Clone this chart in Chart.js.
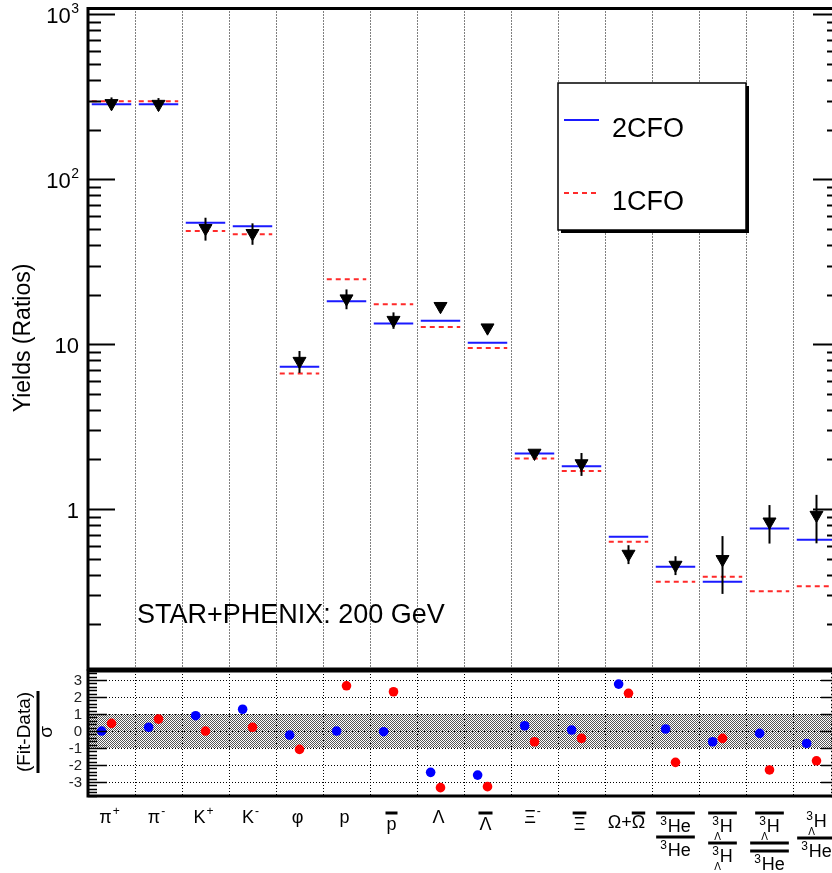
<!DOCTYPE html>
<html>
<head>
<meta charset="utf-8">
<script src="https://cdn.jsdelivr.net/npm/chart.js@4.4.0/dist/chart.umd.min.js"></script>
<style>
html, body { margin: 0; padding: 0; background: #fff; overflow: hidden; }
#wrap { position: relative; width: 832px; height: 873px; overflow: hidden; }
canvas { position: absolute; left: 0; top: 0; }
</style>
</head>
<body>
<div id="wrap">
  <canvas id="upper" width="860" height="873"></canvas>
  <canvas id="lower" width="860" height="873"></canvas>
</div>
<script>
// particles / ratios, one bin each
const particles = ['pi+', 'pi-', 'K+', 'K-', 'phi', 'p', 'pbar', 'Lambda', 'Lambdabar', 'Xi-', 'Xibar',
    'Omega+Omegabar', 'He3bar/He3', 'H3Lbar/H3L', 'H3Lbar/He3bar', 'H3L/He3'];

// measured yields (ratios) and errors
const yieldData = [289, 286, 50.5, 47.1, 7.9, 18.9, 14.0, 17.0, 12.6, 2.19, 1.89, 0.534, 0.458, 0.496, 0.838, 0.92];
const yieldErr  = [25, 25, 8, 7, 1.2, 2.6, 1.6, 0.4, 0.3, 0.08, 0.3, 0.07, 0.06, 0.19, 0.22, 0.3];

// model fits
const fit2CFO = [285, 285, 54.6, 51.9, 7.29, 18.2, 13.35, 13.9, 10.2, 2.175, 1.82, 0.68, 0.447, 0.363, 0.764, 0.652];
const fit1CFO = [298, 298, 48.6, 46.4, 6.64, 24.8, 17.5, 12.7, 9.5, 2.03, 1.70, 0.634, 0.363, 0.389, 0.318, 0.341];

// (fit - data) / sigma
const dev2CFO = [0.0, 0.22, 0.9, 1.28, -0.24, 0.0, -0.04, -2.43, -2.59, 0.31, 0.06, 2.76, 0.12, -0.63, -0.14, -0.73];
const dev1CFO = [0.45, 0.7, 0.0, 0.22, -1.08, 2.66, 2.31, -3.33, -3.27, -0.63, -0.43, 2.22, -1.84, -0.43, -2.29, -1.75];

// tick labels
const yTicks = [1, 10, 100, 1000];
const yTickText = [['1', ''], ['10', ''], ['10', '2'], ['10', '3']];
const devTicks = [-3, -2, -1, 0, 1, 2, 3];
const xLabels = [
    {t: 'π', sup: '+'},
    {t: 'π', sup: '-'},
    {t: 'K', sup: '+'},
    {t: 'K', sup: '-'},
    {t: 'φ'},
    {t: 'p'},
    {t: 'p', bar: true},
    {t: 'Λ'},
    {t: 'Λ', bar: true},
    {t: 'Ξ', sup: '-'},
    {t: 'Ξ', bar: true},
    {parts: [{t: 'Ω'}, {t: '+'}, {t: 'Ω', bar: true}]},
    {num: {pre: '3', t: 'He', bar: true}, den: {pre: '3', t: 'He'}},
    {num: {pre: '3', sub: 'Λ', t: 'H', bar: true}, den: {pre: '3', sub: 'Λ', t: 'H'}},
    {num: {pre: '3', sub: 'Λ', t: 'H', bar: true}, den: {pre: '3', t: 'He', bar: true}},
    {num: {pre: '3', sub: 'Λ', t: 'H'}, den: {pre: '3', t: 'He'}}
];

const FONT = '"Liberation Sans", Arial, Helvetica, sans-serif';
const MAIN = '18px ' + FONT;
const SMALL = '12px ' + FONT;
const TINY = '10px ' + FONT;

function modelSegments(vals) {
    const pts = [];
    vals.forEach((v, i) => {
        pts.push({x: i + 0.08, y: v}, {x: i + 0.92, y: v}, {x: i + 0.96, y: null});
    });
    return pts;
}

function dottedVertical(ctx, chart) {
    const a = chart.chartArea, x = chart.scales.x;
    ctx.strokeStyle = '#000';
    ctx.lineWidth = 1;
    ctx.setLineDash([1, 2]);
    for (let i = 1; i < particles.length; i++) {
        const px = Math.round(x.getPixelForValue(i)) + 0.5;
        ctx.beginPath();
        ctx.moveTo(px, a.top);
        ctx.lineTo(px, a.bottom);
        ctx.stroke();
    }
    ctx.setLineDash([]);
}

function line(ctx, x1, y1, x2, y2) {
    ctx.beginPath();
    ctx.moveTo(x1, y1);
    ctx.lineTo(x2, y2);
    ctx.stroke();
}

const upperDecor = {
    id: 'upperDecor',
    beforeDatasetsDraw(chart) {
        const ctx = chart.ctx;
        ctx.save();
        dottedVertical(ctx, chart);
        ctx.restore();
    },
    afterDatasetsDraw(chart) {
        const {ctx, chartArea: a, scales: {x, y}} = chart;
        ctx.save();

        // error bars
        ctx.strokeStyle = '#000';
        ctx.lineWidth = 2;
        yieldData.forEach((v, i) => {
            const px = x.getPixelForValue(i + 0.5);
            line(ctx, px, y.getPixelForValue(v + yieldErr[i]), px, y.getPixelForValue(v - yieldErr[i]));
        });

        // legend
        const lx = 558, ly = 83, lw = 188, lh = 147;
        ctx.fillStyle = '#000';
        ctx.fillRect(lx + 3, ly + 3, lw, lh);
        ctx.fillStyle = '#fff';
        ctx.fillRect(lx, ly, lw, lh);
        ctx.lineWidth = 1.5;
        ctx.strokeRect(lx, ly, lw, lh);
        const items = [chart.data.datasets[1], chart.data.datasets[2]];
        items.forEach((ds, k) => {
            const yy = k === 0 ? 120 : 193;
            ctx.strokeStyle = ds.borderColor;
            ctx.lineWidth = 2;
            ctx.setLineDash(ds.borderDash || []);
            line(ctx, 564, yy, 599, yy);
            ctx.setLineDash([]);
            ctx.fillStyle = '#000';
            ctx.font = '27px ' + FONT;
            ctx.textBaseline = 'alphabetic';
            ctx.textAlign = 'left';
            ctx.fillText(ds.label, 612, yy + 17);
        });

        // frame
        ctx.strokeStyle = '#000';
        ctx.lineWidth = 3;
        ctx.strokeRect(a.left, a.top, a.right - a.left, a.bottom - a.top);

        // log ticks, both sides
        ctx.lineWidth = 2;
        for (let n = -1; n <= 3; n++) {
            for (let m = 1; m <= 9; m++) {
                const v = m * Math.pow(10, n);
                if (v < y.min || v > y.max) continue;
                const py = Math.round(y.getPixelForValue(v)) + 0.5;
                const len = m === 1 ? 27 : 13;
                line(ctx, a.left, py, a.left + len, py);
                line(ctx, a.right - len, py, a.right, py);
            }
        }

        // y tick labels
        ctx.fillStyle = '#000';
        ctx.textBaseline = 'alphabetic';
        yTicks.forEach((v, k) => {
            const py = y.getPixelForValue(v);
            const [base, sup] = yTickText[k];
            let right = 79;
            if (sup) {
                ctx.font = '14px ' + FONT;
                const supW = ctx.measureText(sup).width;
                ctx.textAlign = 'left';
                ctx.fillText(sup, right - supW, py - 1);
                right -= supW + 0.5;
            }
            ctx.font = '22px ' + FONT;
            ctx.textAlign = 'right';
            ctx.fillText(base, right, py + 9);
        });

        // axis title
        ctx.save();
        ctx.translate(24, 338);
        ctx.rotate(-Math.PI / 2);
        ctx.font = '23px ' + FONT;
        ctx.textAlign = 'center';
        ctx.textBaseline = 'middle';
        ctx.fillText('Yields (Ratios)', 0, 0);
        ctx.restore();

        // energy note
        ctx.font = '27px ' + FONT;
        ctx.textAlign = 'left';
        ctx.textBaseline = 'alphabetic';
        ctx.fillText('STAR+PHENIX: 200 GeV', 137, 623);

        ctx.restore();
    }
};

function termMetrics(ctx, t) {
    ctx.font = MAIN;
    const mw = ctx.measureText(t.t).width;
    let pw = 0, sw = 0;
    ctx.font = SMALL;
    if (t.pre) pw = ctx.measureText(t.pre).width + 1;
    if (t.sup) sw = ctx.measureText(t.sup).width + 1;
    return {w: pw + mw + sw, pw, mw, sw};
}

function drawTerm(ctx, t, left, base) {
    const m = termMetrics(ctx, t);
    let x = left;
    if (t.pre) {
        ctx.font = SMALL;
        ctx.fillText(t.pre, x, base - 7);
    }
    if (t.sub) {
        ctx.font = TINY;
        ctx.fillText(t.sub, x + 2, base + 8);
    }
    x += m.pw;
    ctx.font = MAIN;
    ctx.fillText(t.t, x, base);
    x += m.mw;
    if (t.sup) {
        ctx.font = SMALL;
        ctx.fillText(t.sup, x + 1, base - 8);
    }
    return m;
}

function drawXLabel(ctx, lab, cx) {
    ctx.fillStyle = '#000';
    ctx.strokeStyle = '#000';
    ctx.textAlign = 'left';
    ctx.textBaseline = 'alphabetic';
    if (lab.num) {
        const mn = termMetrics(ctx, lab.num), md = termMetrics(ctx, lab.den);
        const nb = lab.num.bar ? 832 : 827;
        if (lab.num.bar) {
            ctx.lineWidth = 3;
            line(ctx, cx - mn.w / 2 - 4, 813, cx + mn.w / 2 + 4, 813);
        }
        drawTerm(ctx, lab.num, cx - mn.w / 2, nb);
        const fy = nb + (lab.num.sub ? 11 : 5);
        const fw = Math.max(mn.w, md.w) + 8;
        ctx.lineWidth = 3;
        line(ctx, cx - fw / 2, fy, cx + fw / 2, fy);
        let db = fy + 19;
        if (lab.den.bar) {
            line(ctx, cx - md.w / 2 - 4, fy + 8, cx + md.w / 2 + 4, fy + 8);
            db = fy + 27;
        }
        drawTerm(ctx, lab.den, cx - md.w / 2, db);
    } else if (lab.parts) {
        const ms = lab.parts.map(p => termMetrics(ctx, p));
        const tw = ms.reduce((s, m) => s + m.w, 0);
        let x = cx - tw / 2;
        lab.parts.forEach((p, k) => {
            if (p.bar) {
                ctx.lineWidth = 3;
                line(ctx, x, 813, x + ms[k].w, 813);
            }
            drawTerm(ctx, p, x, 828);
            x += ms[k].w;
        });
    } else {
        const m = termMetrics(ctx, lab);
        const base = lab.bar ? 830 : 823;
        if (lab.bar) {
            ctx.lineWidth = 3;
            line(ctx, cx - m.w / 2 - 1, 813, cx + m.w / 2 + 1, 813);
        }
        drawTerm(ctx, lab, cx - m.w / 2, base);
    }
}

// dotted band texture
const patCanvas = document.createElement('canvas');
patCanvas.width = 2;
patCanvas.height = 2;
const pctx = patCanvas.getContext('2d');
pctx.fillStyle = '#fff';
pctx.fillRect(0, 0, 2, 2);
pctx.fillStyle = '#555';
pctx.fillRect(0, 0, 1, 1);
pctx.fillRect(1, 1, 1, 1);

const lowerDecor = {
    id: 'lowerDecor',
    beforeDatasetsDraw(chart) {
        const {ctx, chartArea: a, scales: {y}} = chart;
        ctx.save();
        ctx.fillStyle = ctx.createPattern(patCanvas, 'repeat');
        const y1 = y.getPixelForValue(1), y0 = y.getPixelForValue(-1);
        ctx.fillRect(a.left, y1, a.right - a.left, y0 - y1);
        ctx.strokeStyle = '#000';
        ctx.lineWidth = 1;
        ctx.setLineDash([1, 2]);
        devTicks.forEach(v => {
            const py = Math.round(y.getPixelForValue(v)) + 0.5;
            line(ctx, a.left, py, a.right, py);
        });
        dottedVertical(ctx, chart);
        ctx.restore();
    },
    afterDatasetsDraw(chart) {
        const {ctx, chartArea: a, scales: {x, y}} = chart;
        ctx.save();
        ctx.strokeStyle = '#000';
        ctx.lineWidth = 3;
        ctx.strokeRect(a.left, a.top, a.right - a.left, a.bottom - a.top);

        ctx.lineWidth = 1.5;
        for (let k = -19; k <= 17; k++) {
            const v = k / 5;
            if (v < y.min || v > y.max) continue;
            const py = Math.round(y.getPixelForValue(v)) + 0.5;
            const len = k % 5 === 0 ? 19 : 9;
            line(ctx, a.left, py, a.left + len, py);
            line(ctx, a.right - len, py, a.right, py);
        }

        ctx.fillStyle = '#222';
        ctx.font = '15px ' + FONT;
        ctx.textAlign = 'right';
        ctx.textBaseline = 'middle';
        devTicks.forEach(v => ctx.fillText(String(v), 82, y.getPixelForValue(v) + 1));

        // axis title: (Fit-Data) over sigma
        ctx.save();
        ctx.translate(25, 732);
        ctx.rotate(-Math.PI / 2);
        ctx.fillStyle = '#000';
        ctx.textAlign = 'center';
        ctx.textBaseline = 'middle';
        ctx.font = '19px ' + FONT;
        ctx.fillText('(Fit-Data)', 0, 0);
        ctx.lineWidth = 3;
        line(ctx, -41, 13, 41, 13);
        ctx.fillText('σ', 0, 22);
        ctx.restore();

        xLabels.forEach((lab, i) => {
            const cx = x.getPixelForValue(i + 0.5);
            drawXLabel(ctx, lab, lab.num ? cx : cx - 2);
        });
        ctx.restore();
    }
};

new Chart(document.getElementById('upper'), {
    type: 'scatter',
    data: {
        datasets: [
            {
                label: 'data',
                data: yieldData.map((v, i) => ({x: i + 0.5, y: v})),
                pointStyle: 'triangle',
                rotation: 180,
                pointRadius: 7.5,
                backgroundColor: '#000',
                borderColor: '#000',
                borderWidth: 1
            },
            {
                label: '2CFO',
                type: 'line',
                data: modelSegments(fit2CFO),
                borderColor: '#1a1aff',
                borderWidth: 2,
                pointRadius: 0,
                spanGaps: false
            },
            {
                label: '1CFO',
                type: 'line',
                data: modelSegments(fit1CFO),
                borderColor: '#ff2a2a',
                borderWidth: 2,
                borderDash: [5, 4],
                pointRadius: 0,
                spanGaps: false
            }
        ]
    },
    options: {
        responsive: false,
        animation: false,
        devicePixelRatio: 1,
        layout: {padding: {left: 88, right: 20, top: 8, bottom: 204}},
        plugins: {legend: {display: false}, tooltip: {enabled: false}},
        scales: {
            x: {type: 'linear', min: 0, max: particles.length, display: false},
            y: {type: 'logarithmic', min: 0.1072, max: 1087, display: false}
        }
    },
    plugins: [upperDecor]
});

new Chart(document.getElementById('lower'), {
    type: 'scatter',
    data: {
        datasets: [
            {
                label: '2CFO',
                data: dev2CFO.map((v, i) => ({x: i + 0.29, y: v})),
                pointRadius: 4.8,
                backgroundColor: '#0000ff',
                borderColor: '#0000ff',
                borderWidth: 0
            },
            {
                label: '1CFO',
                data: dev1CFO.map((v, i) => ({x: i + 0.5, y: v})),
                pointRadius: 4.8,
                backgroundColor: '#ff0000',
                borderColor: '#ff0000',
                borderWidth: 0
            }
        ]
    },
    options: {
        responsive: false,
        animation: false,
        devicePixelRatio: 1,
        layout: {padding: {left: 88, right: 20, top: 671, bottom: 77}},
        plugins: {legend: {display: false}, tooltip: {enabled: false}},
        scales: {
            x: {type: 'linear', min: 0, max: particles.length, display: false},
            y: {type: 'linear', min: -3.82, max: 3.53, display: false}
        }
    },
    plugins: [lowerDecor]
});
</script>
</body>
</html>
